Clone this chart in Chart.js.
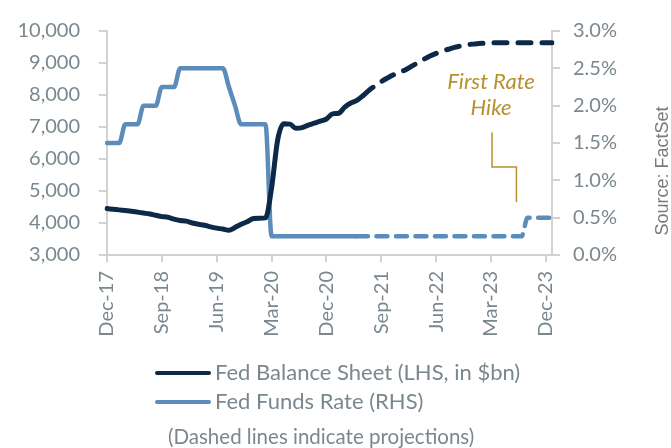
<!DOCTYPE html>
<html>
<head>
<meta charset="utf-8">
<script src="https://cdn.jsdelivr.net/npm/chart.js@4"></script>
<style>
  html, body { margin: 0; padding: 0; background: #fff; }
  #wrap { width: 671px; height: 448px; position: relative; }
</style>
</head>
<body>
<div id="wrap"><canvas id="fedChart" width="671" height="448"></canvas></div>
<script>
const months = [
  'Dec-17',
  'Jan-18','Feb-18','Mar-18','Apr-18','May-18','Jun-18','Jul-18','Aug-18','Sep-18','Oct-18','Nov-18','Dec-18',
  'Jan-19','Feb-19','Mar-19','Apr-19','May-19','Jun-19','Jul-19','Aug-19','Sep-19','Oct-19','Nov-19','Dec-19',
  'Jan-20','Feb-20','Mar-20','Apr-20','May-20','Jun-20','Jul-20','Aug-20','Sep-20','Oct-20','Nov-20','Dec-20',
  'Jan-21','Feb-21','Mar-21','Apr-21','May-21','Jun-21','Jul-21','Aug-21','Sep-21','Oct-21','Nov-21','Dec-21',
  'Jan-22','Feb-22','Mar-22','Apr-22','May-22','Jun-22','Jul-22','Aug-22','Sep-22','Oct-22','Nov-22','Dec-22',
  'Jan-23','Feb-23','Mar-23','Apr-23','May-23','Jun-23','Jul-23','Aug-23','Sep-23','Oct-23','Nov-23','Dec-23',
  'Jan-24'
];

// Fed balance sheet, $bn (left axis)
const balanceSheet = [
  4450,
  4430, 4410, 4390, 4370, 4340, 4310, 4280, 4240, 4200, 4180, 4120, 4080,
  4060, 4000, 3960, 3930, 3880, 3840, 3810, 3770, 3860, 3960, 4040, 4140,
  4150, 4160, 5100, 6600, 7100, 7090, 6960, 6980, 7060, 7120, 7180, 7250,
  7410, 7430, 7620, 7750, 7830, 7980, 8150, 8290, 8420, 8530, 8630, 8710,
  8790, 8900, 9010, 9120, 9220, 9300, 9370, 9430, 9490, 9530, 9570, 9590,
  9610, 9620, 9630, 9630, 9630, 9630, 9630, 9630, 9630, 9630, 9630, 9630,
  9630
];

// Fed funds rate, % (right axis)
const fedFunds = [
  1.5,
  1.5, 1.5, 1.75, 1.75, 1.75, 2.0, 2.0, 2.0, 2.25, 2.25, 2.25, 2.5,
  2.5, 2.5, 2.5, 2.5, 2.5, 2.5, 2.5, 2.25, 2.0, 1.75, 1.75, 1.75,
  1.75, 1.75, 0.25, 0.25, 0.25, 0.25, 0.25, 0.25, 0.25, 0.25, 0.25, 0.25,
  0.25, 0.25, 0.25, 0.25, 0.25, 0.25, 0.25, 0.25, 0.25, 0.25, 0.25, 0.25,
  0.25, 0.25, 0.25, 0.25, 0.25, 0.25, 0.25, 0.25, 0.25, 0.25, 0.25, 0.25,
  0.25, 0.25, 0.25, 0.25, 0.25, 0.25, 0.25, 0.25, 0.5, 0.5, 0.5, 0.5,
  0.5
];

// first projected month of each series
const balanceProjFrom = 42;
const ratesProjFrom = 41;

const leftTicks = [3000, 10000, 1000];
const rightTicks = [0, 3, 0.5];
const tickEvery = 9;

const navy = '#0c2a48';
const steel = '#5b8cbb';
const gold = '#b8912f';
const grey = '#7b878e';
const axisGrey = '#d2d2d2';
const font = 'Lato, "Source Sans Pro", sans-serif';

const extras = {
  id: 'extras',
  afterDraw(chart) {
    const c = chart.ctx;
    const x = chart.scales.x, yr = chart.scales.y1;
    const area = chart.chartArea;
    c.save();
    // x axis line overhang
    c.strokeStyle = axisGrey;
    c.lineWidth = 2;
    c.beginPath();
    c.moveTo(area.left - 7, area.bottom);
    c.lineTo(area.right + 7, area.bottom);
    c.stroke();

    // annotation
    c.fillStyle = gold;
    c.font = 'italic 22px ' + font;
    c.textAlign = 'center';
    c.textBaseline = 'middle';
    const tx = x.getPixelForValue(63);
    c.fillText('First Rate', tx, yr.getPixelForValue(2.32));
    c.fillText('Hike', tx, yr.getPixelForValue(1.97));
    c.strokeStyle = gold;
    c.lineWidth = 1.5;
    c.beginPath();
    c.moveTo(x.getPixelForValue(63) + 1, yr.getPixelForValue(1.64));
    c.lineTo(x.getPixelForValue(63) + 1, yr.getPixelForValue(1.18));
    c.lineTo(x.getPixelForValue(67) + 1, yr.getPixelForValue(1.18));
    c.lineTo(x.getPixelForValue(67) + 1, yr.getPixelForValue(0.71));
    c.stroke();

    // source
    c.save();
    c.translate(663, 171);
    c.rotate(-Math.PI / 2);
    c.fillStyle = '#7a7a7a';
    c.font = '18px "Liberation Sans", Arial, sans-serif';
    c.fillText('Source: FactSet', 0, 0);
    c.restore();

    // legend
    c.textAlign = 'left';
    c.font = '22px ' + font;
    chart.data.datasets.forEach((ds, i) => {
      const ly = 373 + i * 29;
      c.strokeStyle = ds.borderColor;
      c.lineWidth = 4;
      c.lineCap = 'round';
      c.beginPath();
      c.moveTo(157, ly);
      c.lineTo(209, ly);
      c.stroke();
      c.fillStyle = grey;
      c.fillText(ds.label, 215, ly);
    });
    c.font = '20.5px ' + font;
    c.fillText('(Dashed lines indicate projections)', 168, 437);
    c.restore();
  }
};

const dashAfter = (from, pattern) => ctx => ctx.p0DataIndex >= from ? pattern : undefined;

new Chart(document.getElementById('fedChart'), {
  type: 'line',
  data: {
    labels: months,
    datasets: [{
      label: 'Fed Balance Sheet (LHS, in $bn)',
      data: balanceSheet,
      yAxisID: 'y',
      borderColor: navy,
      borderWidth: 5,
      borderCapStyle: 'round',
      borderJoinStyle: 'round',
      pointRadius: 0,
      cubicInterpolationMode: 'monotone',
      segment: { borderDash: dashAfter(balanceProjFrom, [13, 11]) }
    }, {
      label: 'Fed Funds Rate (RHS)',
      data: fedFunds,
      yAxisID: 'y1',
      borderColor: steel,
      borderWidth: 4.5,
      borderCapStyle: 'round',
      borderJoinStyle: 'round',
      pointRadius: 0,
      cubicInterpolationMode: 'monotone',
      segment: { borderDash: dashAfter(ratesProjFrom, [11, 8.5]) }
    }]
  },
  options: {
    responsive: false,
    animation: false,
    layout: { padding: { top: 21, left: 0, right: 0, bottom: 0 } },
    plugins: { legend: { display: false }, tooltip: { enabled: false } },
    scales: {
      x: {
        grid: { drawOnChartArea: false, color: axisGrey, lineWidth: 2, tickLength: 7 },
        border: { color: axisGrey, width: 2 },
        ticks: {
          autoSkip: false, maxRotation: 90, minRotation: 90, padding: 9,
          color: grey, font: { family: font, size: 20 },
          callback: (v, i) => i % tickEvery === 0 ? months[i] : null
        },
        afterFit: s => { s.height = 193; }
      },
      y: {
        position: 'left',
        min: leftTicks[0], max: leftTicks[1],
        grid: { drawOnChartArea: false, color: axisGrey, lineWidth: 2, tickLength: 8 },
        border: { color: axisGrey, width: 2 },
        ticks: {
          stepSize: leftTicks[2], padding: 19, color: grey,
          font: { family: font, size: 20 },
          callback: v => v.toLocaleString('en-US')
        },
        afterFit: s => { s.width = 107; }
      },
      y1: {
        position: 'right',
        min: rightTicks[0], max: rightTicks[1],
        grid: { drawOnChartArea: false, color: axisGrey, lineWidth: 2, tickLength: 8 },
        border: { color: axisGrey, width: 2 },
        ticks: {
          stepSize: rightTicks[2], padding: 13, color: grey,
          font: { family: font, size: 20 },
          callback: v => v.toFixed(1) + '%'
        },
        afterFit: s => { s.width = 119; }
      }
    }
  },
  plugins: [extras]
});
</script>
</body>
</html>
